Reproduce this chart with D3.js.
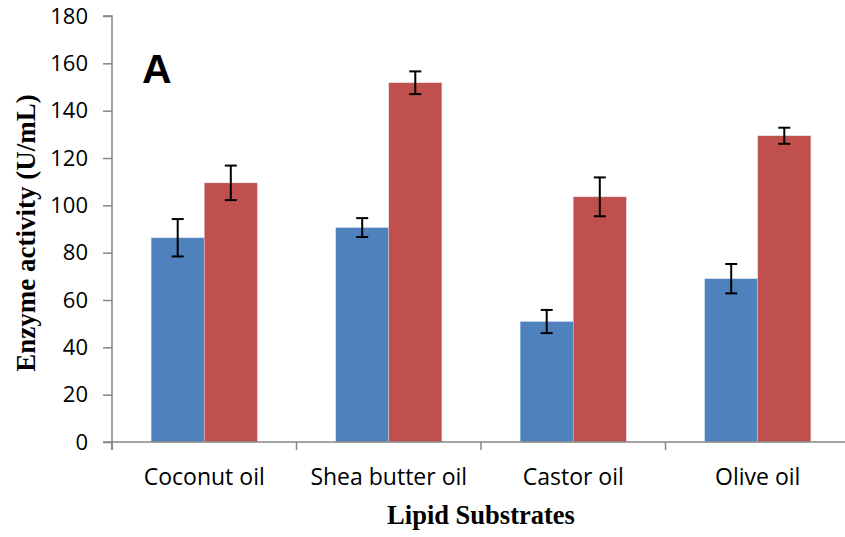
<!DOCTYPE html>
<html><head><meta charset="utf-8">
<script src="https://cdn.jsdelivr.net/npm/d3@7"></script>
<style>body{margin:0;background:#fff}svg{display:block}</style>
</head><body>
<svg id="c" width="845" height="537"></svg>
<script>
const categories = ["Coconut oil","Shea butter oil","Castor oil","Olive oil"];
const series1 = [86.3, 90.6, 50.9, 69.0];
const series1Err = [7.9, 4.0, 4.9, 6.2];
const series2 = [109.5, 151.8, 103.6, 129.4];
const series2Err = [7.3, 4.8, 8.2, 3.4];
const yTicks = [0,20,40,60,80,100,120,140,160,180];

const svg = d3.select("#c");
const left = 112, right = 850;
const x = d3.scaleBand().domain(categories).range([left, right]).paddingInner(0).paddingOuter(0);
const y = d3.scaleLinear().domain([0,180]).range([442,16]);
const inner = d3.scaleBand().domain([0,1]).range([0, x.bandwidth()]).paddingInner(0).paddingOuter(0.7375);

const axisColor = "#868686";
const sans = "'Open Sans', 'Noto Sans', sans-serif";
const serif = "'Liberation Serif', 'Times New Roman', serif";

// y axis
const ya = svg.append("g").attr("transform",`translate(${left},0)`)
  .call(d3.axisLeft(y).tickValues(yTicks).tickSize(9).tickPadding(15));
ya.select(".domain").attr("stroke",axisColor).attr("stroke-width",1.5).attr("d",`M-9,${y(180)}H0V${y(0)+8}`);
ya.selectAll(".tick line").attr("stroke",axisColor).attr("stroke-width",1.5);
ya.selectAll(".tick text").attr("font-family",sans).attr("font-size",22).attr("fill","#000");

// bars
const data = categories.map((c,i)=>({c, v:[series1[i],series2[i]], e:[series1Err[i],series2Err[i]]}));
const colors = ["#4F81BD","#C0504D"];
const g = svg.append("g");
data.forEach(d=>{
  [0,1].forEach(k=>{
    const x0 = x(d.c)+inner(k);
    g.append("rect").attr("x",x0).attr("y",y(d.v[k])).attr("width",inner.bandwidth()).attr("height",y(0)-y(d.v[k]))
      .attr("fill",colors[k]).attr("stroke","#dde6f0").attr("stroke-width",0.6).attr("stroke-opacity",0.6);
  });
});
// x axis
const xa = svg.append("g").attr("transform",`translate(0,${y(0)})`);
xa.append("line").attr("x1",left-9).attr("x2",right).attr("y1",0).attr("y2",0).attr("stroke",axisColor).attr("stroke-width",1.5);
const bounds = categories.map(c=>x(c)).concat([right]);
bounds.forEach(b=>xa.append("line").attr("x1",b).attr("x2",b).attr("y1",0).attr("y2",8).attr("stroke",axisColor).attr("stroke-width",1.5));
categories.forEach(c=>xa.append("text").attr("x",x(c)+x.bandwidth()/2).attr("y",43).attr("text-anchor","middle")
  .attr("font-family",sans).attr("font-size",23).attr("fill","#000").text(c));

// error bars
data.forEach(d=>{
  [0,1].forEach(k=>{
    const cx = x(d.c)+inner(k)+inner.bandwidth()/2;
    const hi = y(d.v[k]+d.e[k]), lo = y(d.v[k]-d.e[k]);
    const eg = svg.append("g").attr("stroke","#000").attr("stroke-width",2);
    eg.append("line").attr("x1",cx).attr("x2",cx).attr("y1",hi).attr("y2",lo);
    eg.append("line").attr("x1",cx-6).attr("x2",cx+6).attr("y1",hi).attr("y2",hi);
    eg.append("line").attr("x1",cx-6).attr("x2",cx+6).attr("y1",lo).attr("y2",lo);
  });
});

// titles
svg.append("text").attr("transform","translate(35,233) rotate(-90)").attr("text-anchor","middle")
  .attr("font-family",serif).attr("font-weight","bold").attr("font-size",27).text("Enzyme activity (U/mL)");
svg.append("text").attr("x",481).attr("y",524).attr("text-anchor","middle")
  .attr("font-family",serif).attr("font-weight","bold").attr("font-size",26.5).text("Lipid Substrates");
svg.append("text").attr("x",142).attr("y",83).attr("font-family","'Liberation Sans', Arial, sans-serif").attr("font-weight","bold").attr("font-size",41).text("A");
</script>
</body></html>
